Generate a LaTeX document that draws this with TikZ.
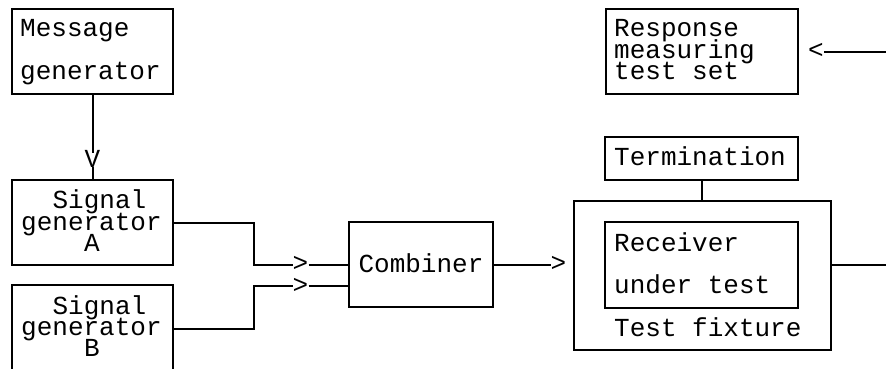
\documentclass[tikz,border=0pt]{standalone}
\usepackage{fontspec}
\setmonofont{Liberation Mono}
\begin{document}
\begin{tikzpicture}[x=1pt,y=-1pt,
  box/.style={draw, line width=2pt, inner sep=0pt},
  lbl/.style={font=\ttfamily\fontsize{26}{26}\selectfont, inner sep=0pt,
    text height=15pt, text depth=5pt, anchor=base west},
  tip/.style={font=\ttfamily\fontsize{26}{26}\selectfont, inner sep=0pt, text height=14pt, text depth=0pt},
  wire/.style={line width=2pt}]
\useasboundingbox (0,0) rectangle (886,369);
\clip (0,0) rectangle (886,369);

% boxes
\node[box, minimum width=161pt, minimum height=85pt] (msg)  at (92.5,51.5) {};
\node[box, minimum width=161pt, minimum height=85pt] (siga) at (92.5,222.5) {};
\node[box, minimum width=161pt, minimum height=88pt] (sigb) at (92.5,329) {};
\node[box, minimum width=144pt, minimum height=85pt] (comb) at (421,264.5) {};
\node[box, minimum width=192pt, minimum height=85pt] (resp) at (702,51.5) {};
\node[box, minimum width=193pt, minimum height=43pt] (term) at (701.5,158.5) {};
\node[box, minimum width=257pt, minimum height=149pt] (fix) at (702.5,275.5) {};
\node[box, minimum width=193pt, minimum height=86pt] (rx)   at (701.5,265) {};

% labels
\node[lbl] (msg1) at (20,37) {Message};
\node[lbl] (msg2) at (20,80) {generator};
\node[lbl] (sa1) at (52.4,208) {Signal};
\node[lbl] (sa2) at (21,230) {generator};
\node[lbl] (sa3) at (83.8,251) {A};
\node[lbl] (sb1) at (52.4,314) {Signal};
\node[lbl] (sb2) at (21,335) {generator};
\node[lbl] (sb3) at (83.8,356) {B};
\node[lbl, anchor=base] (cb) at (421,272) {Combiner};
\node[lbl] (rs1) at (614,37) {Response};
\node[lbl] (rs2) at (614,59) {measuring};
\node[lbl] (rs3) at (614,80) {test set};
\node[lbl] (tm) at (614,165) {Termination};
\node[lbl] (rx1) at (614,251) {Receiver};
\node[lbl] (rx2) at (614,293) {under test};
\node[lbl] (fx) at (614,336) {Test fixture};

% arrowhead characters
\node[tip] (vA)   at (92.5,160)   {V};
\node[tip] (inA)  at (300.5,264.5) {>};
\node[tip] (inB)  at (300.5,286)  {>};
\node[tip] (out)  at (558.5,264.5) {>};
\node[tip] (back) at (816,52)     {<};

\coordinate (fixout) at (886,265);
\coordinate (respin) at (886,52);

% connectors
\draw[wire] (msg.south) -- (vA.north);
\draw[wire] (vA.south) -- (siga.north);
\draw[wire] (siga.east) -- ++(80,0) |- (inA.west);
\draw[wire] (inA.east) -- (inA.east -| comb.west);
\draw[wire] (sigb.east) -- ++(80,0) |- (inB.west);
\draw[wire] (inB.east) -- (inB.east -| comb.west);
\draw[wire] (comb.east) -- (out.west);
\draw[wire] (term.south) -- (term.south |- fix.north);
\draw[wire] (fixout -| fix.east) -- (fixout);
\draw[wire] (back.east) -- (respin);
\end{tikzpicture}
\end{document}
